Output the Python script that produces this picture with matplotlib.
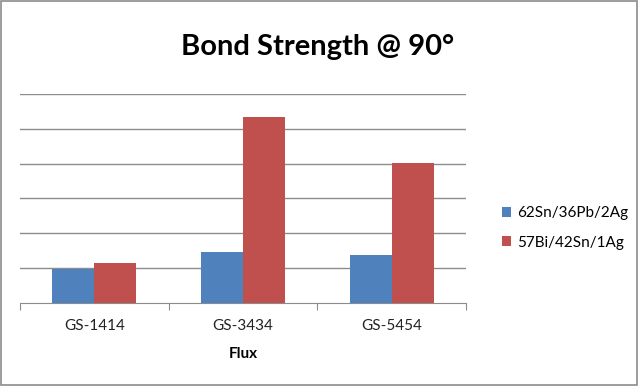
import matplotlib.pyplot as plt
import matplotlib.patches as mpatches
import numpy as np

plt.rcParams['font.family'] = ['Lato', 'DejaVu Sans']

fluxes = ['GS-1414', 'GS-3434', 'GS-5454']
series = ['62Sn/36Pb/2Ag', '57Bi/42Sn/1Ag']
sn_pb_ag = [0.96, 1.47, 1.37]
bi_sn_ag = [1.15, 5.33, 4.01]
colors = ['#4F81BD', '#C0504D']

fig = plt.figure(figsize=(6.4, 3.86), dpi=100)
ax = fig.add_axes([20/640, 1 - 302.7/386, 446/640, (302.7 - 94)/386])

x = np.arange(len(fluxes))
w = 0.283
ax.bar(x - w/2, sn_pb_ag, w, color=colors[0], label=series[0], zorder=3)
ax.bar(x + w/2, bi_sn_ag, w, color=colors[1], label=series[1], zorder=3)

ax.set_xlim(-0.5, 2.5)
ax.set_ylim(0, 6)
ax.set_yticks(np.arange(1, 7))
ax.yaxis.grid(True, color='#8c8c8c', linewidth=1)
ax.tick_params(axis='y', left=False, labelleft=False)
ax.set_axisbelow(True)
for s in ['top', 'right', 'left']:
    ax.spines[s].set_visible(False)
ax.spines['bottom'].set_color('#8c8c8c')

# category boundaries as ticks, labels at centres
ax.set_xticks(np.arange(-0.5, 3, 1))
ax.set_xticklabels([])
ax.tick_params(axis='x', length=5, color='#8c8c8c')
ax.set_xticks(x, minor=True)
ax.set_xticklabels(fluxes, minor=True, fontsize=11, color='#222222')
ax.tick_params(axis='x', which='minor', length=0, pad=12)
ax.set_xlabel('Flux', fontsize=11, fontweight='bold', labelpad=10)

fig.text(318/640, 1 - 47/386, 'Bond Strength @ 90°', ha='center', va='center',
         fontsize=21, fontweight='bold')

ax.legend(loc='center left', bbox_to_anchor=(488/640, 1 - 228/386),
          bbox_transform=fig.transFigure, frameon=False, fontsize=11,
          handlelength=0.6, handleheight=0.6, handletextpad=0.4, labelspacing=1.0)

fig.patches.append(mpatches.Rectangle((0.002, 0.003), 0.994, 0.994, transform=fig.transFigure,
                                      fill=False, edgecolor='#8c8c8c', linewidth=1.2))

fig.savefig('out.png', dpi=100)
